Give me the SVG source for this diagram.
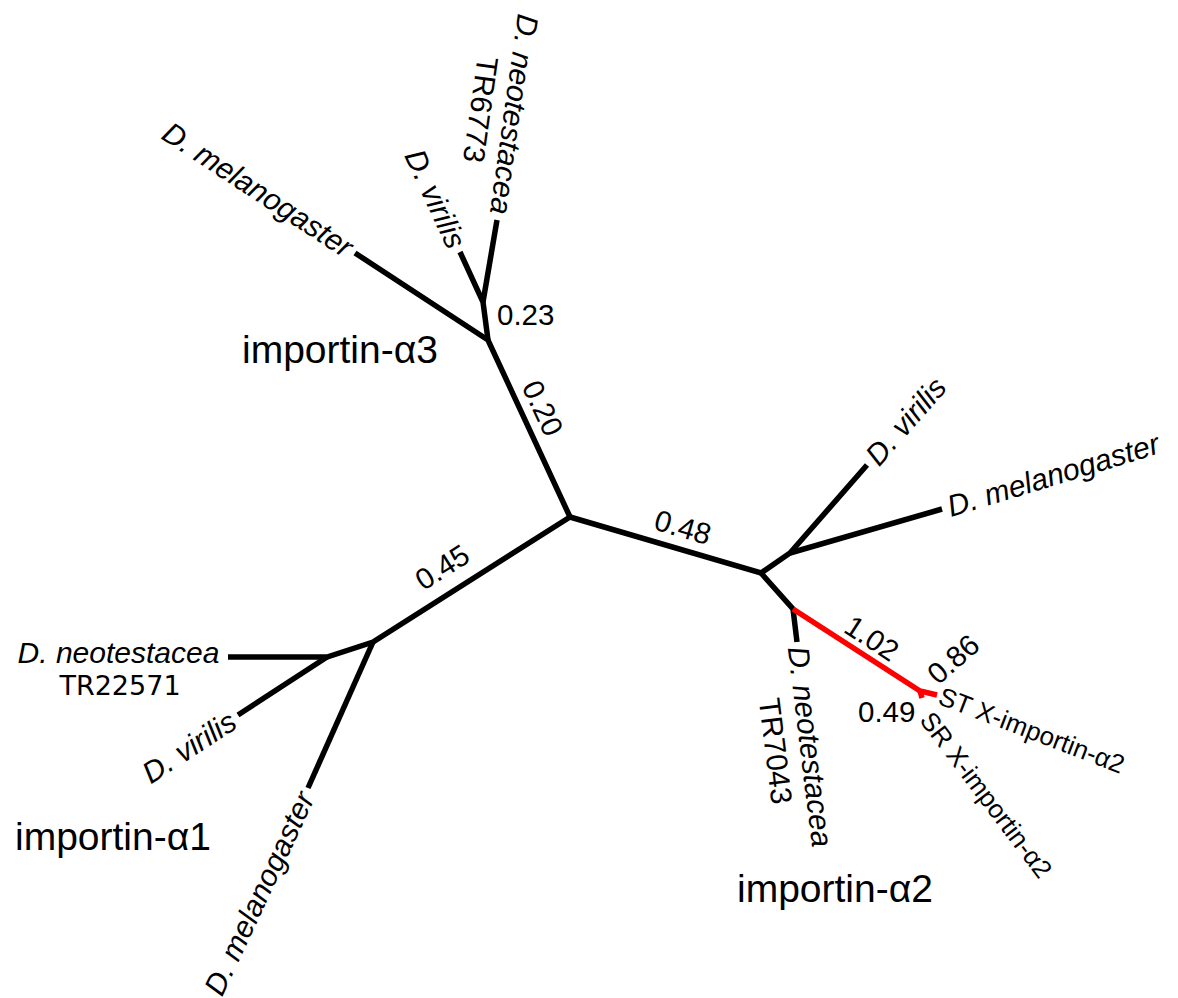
<svg xmlns="http://www.w3.org/2000/svg" width="1178" height="998" viewBox="0 0 1178 998">
  <style>
    .br { fill: none; stroke: #000; stroke-width: 5.5; stroke-linecap: butt; stroke-linejoin: miter; }
    .hl { stroke: #ff0000; }
    text { font-family: "Liberation Sans", Arial, sans-serif; fill: #000; }
    .sp { font-size: 30px; font-style: italic; }
    .acc { font-size: 30px; }
    .acc2 { font-family: "DejaVu Sans", sans-serif; font-size: 27px; }
    .num { font-size: 29.5px; }
    .xg { font-size: 26px; }
    .clade { font-size: 39px; }
    .c { dominant-baseline: central; }
  </style>
  <rect width="1178" height="998" fill="#fff"/>

  <!-- branches of the unrooted tree -->
  <g id="branches">
    <!-- importin-a3 clade -->
    <path class="br" d="M355,253 L488,340 L570,517"/>
    <path class="br" d="M488,340 L483,302 L460,252"/>
    <path class="br" d="M483,302 L497,220"/>
    <!-- importin-a2 clade -->
    <path class="br" d="M570,517 L761,573 L790,553 L867,465"/>
    <path class="br" d="M790,553 L942,509"/>
    <path class="br" d="M761,573 L793,609 L797,642"/>
    <path class="br hl" d="M793,609 L920,691 L937,695"/>
    <path class="br hl" d="M920,691 L922,698"/>
    <!-- importin-a1 clade -->
    <path class="br" d="M570,517 L373,642 L327,657 L228,657"/>
    <path class="br" d="M373,642 L308,788"/>
    <path class="br" d="M327,657 L238,715"/>
  </g>

  <!-- branch lengths -->
  <g id="lengths" class="num">
    <text x="497" y="325">0.23</text>
    <text class="c" text-anchor="middle" transform="translate(543,408) rotate(65)">0.20</text>
    <text class="c" text-anchor="middle" transform="translate(683,527) rotate(16.3)">0.48</text>
    <text class="c" text-anchor="middle" transform="translate(442,567) rotate(-32.4)">0.45</text>
    <text class="c" text-anchor="middle" transform="translate(872,638) rotate(33)">1.02</text>
    <text class="c" text-anchor="middle" transform="translate(953,659) rotate(-41)">0.86</text>
    <text x="858" y="722">0.49</text>
  </g>

  <!-- tip labels -->
  <g id="a3-mel">
    <text class="sp c" text-anchor="end" transform="translate(350,249.7) rotate(33.2)">D. melanogaster</text>
  </g>
  <g id="a3-vir">
    <text class="sp c" text-anchor="end" transform="translate(457.5,246.5) rotate(65.3)">D. virilis</text>
  </g>
  <g id="a3-neo" transform="translate(504,113) rotate(98)" text-anchor="middle">
    <text class="sp" x="0" y="0">D. neotestacea</text>
    <text class="acc" x="0" y="34">TR6773</text>
  </g>

  <g id="a2-vir">
    <text class="sp c" transform="translate(871,460.5) rotate(-48.8)">D. virilis</text>
  </g>
  <g id="a2-mel">
    <text class="sp c" transform="translate(948,507) rotate(-17)">D. melanogaster</text>
  </g>
  <g id="a2-neo" transform="translate(800,748) rotate(83)" text-anchor="middle">
    <text class="sp" x="0" y="0">D. neotestacea</text>
    <text class="acc" x="0" y="35">TR7043</text>
  </g>
  <g id="st-x">
    <text class="xg c" transform="translate(940,695) rotate(21)">ST X-importin-α2</text>
  </g>
  <g id="sr-x">
    <text class="xg c" transform="translate(926,715) rotate(53)">SR X-importin-α2</text>
  </g>

  <g id="a1-neo" text-anchor="middle">
    <text class="sp" x="118.5" y="663">D. neotestacea</text>
    <text class="acc2" x="120" y="695">TR22571</text>
  </g>
  <g id="a1-vir">
    <text class="sp c" text-anchor="end" transform="translate(233,718.3) rotate(-33.1)">D. virilis</text>
  </g>
  <g id="a1-mel">
    <text class="sp c" text-anchor="end" transform="translate(305.6,793.5) rotate(-65)">D. melanogaster</text>
  </g>

  <!-- clade names -->
  <g id="clade-a3"><text class="clade" x="242" y="363">importin-α3</text></g>
  <g id="clade-a1"><text class="clade" x="15" y="850">importin-α1</text></g>
  <g id="clade-a2"><text class="clade" x="737" y="902">importin-α2</text></g>
</svg>
